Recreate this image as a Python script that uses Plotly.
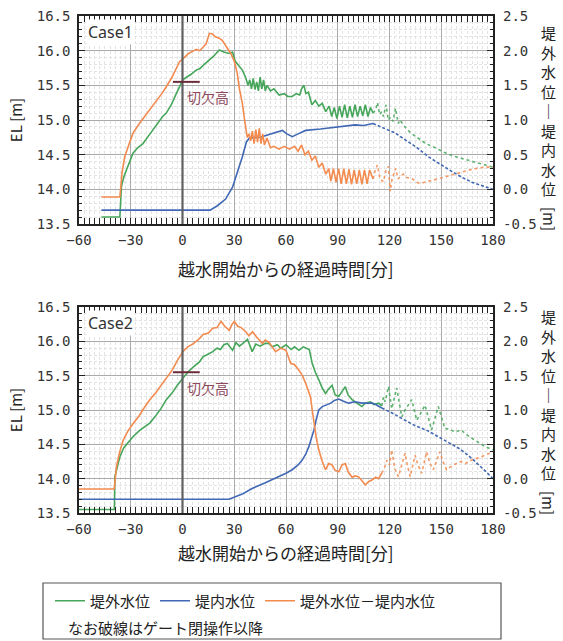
import plotly.graph_objects as go

# ---------------- data ----------------
x_ticks = [-60, -30, 0, 30, 60, 90, 120, 150, 180]
el_ticks = [13.5, 14.0, 14.5, 15.0, 15.5, 16.0, 16.5]
diff_ticks = [-0.5, 0.0, 0.5, 1.0, 1.5, 2.0, 2.5]

# Case1  (t [min], value)
c1_green_solid = [(-47, 13.6), (-36.3, 13.6), (-35.4, 14.04), (-34, 14.18), (-32.5, 14.28), (-30.5, 14.42),
                  (-28.7, 14.52), (-26, 14.6), (-22.9, 14.66), (-20, 14.76), (-17.1, 14.86), (-14, 14.95),
                  (-11.5, 15.05), (-9.4, 15.1), (-6.5, 15.22), (-3.6, 15.38), (-1.5, 15.48), (0.2, 15.58),
                  (2.5, 15.62), (5, 15.66), (7.9, 15.72), (10, 15.74), (12.5, 15.8), (15.6, 15.87), (18, 15.92),
                  (21.3, 16.01), (24, 15.98), (27.1, 15.96), (29, 15.98), (30.5, 15.85), (32.9, 15.77),
                  (34.7, 15.72), (36.5, 15.62), (38, 15.5), (39, 15.58), (40, 15.45), (41, 15.6), (42, 15.44),
                  (43, 15.55), (44, 15.42), (45, 15.62), (46, 15.45), (47, 15.58), (48, 15.42), (49, 15.5),
                  (51, 15.42), (53, 15.45), (56, 15.36), (59, 15.38), (61, 15.34), (63.5, 15.34), (66, 15.38),
                  (68, 15.36), (69, 15.45), (70.4, 15.5), (71.5, 15.38), (73, 15.4), (75, 15.22), (77, 15.28),
                  (79, 15.2), (81, 15.24), (83, 15.12), (85, 15.2), (86.5, 15.05), (88, 15.18), (89.5, 15.02),
                  (91, 15.2), (92.5, 15.04), (94, 15.22), (95.5, 15.03), (97, 15.2), (98.5, 15.04), (100, 15.22),
                  (101.5, 15.05), (103, 15.2), (104.5, 15.06), (106, 15.22), (107.5, 15.05), (109, 15.18),
                  (110.5, 15.1)]
c1_green_dot = [(110.5, 15.1), (112, 15.15), (113, 15.25), (114.3, 15.08), (115.4, 15.12), (116.5, 15.05),
                (118, 15.22), (119.3, 15.0), (120.6, 15.04), (122, 14.98), (123.5, 15.17), (125, 14.95),
                (126, 15.0), (127.5, 14.95), (129, 14.9), (132, 14.82), (136.7, 14.74), (141, 14.66),
                (146.5, 14.6), (152, 14.53), (157, 14.48), (161.5, 14.45), (166, 14.41), (171, 14.38),
                (175, 14.35), (180, 14.32)]
c1_blue_solid = [(-47, 13.7), (16, 13.7), (20, 13.76), (25, 13.86), (29, 14.03), (32, 14.25), (34.7, 14.47),
                 (37, 14.68), (38.7, 14.74), (45, 14.75), (50.2, 14.79), (54, 14.83), (57.9, 14.85),
                 (60.5, 14.8), (63.7, 14.76), (67, 14.8), (71.4, 14.85), (80, 14.87), (88.7, 14.9),
                 (94.4, 14.92), (100, 14.93), (105, 14.92), (110.5, 14.95)]
c1_blue_dash = [(110.5, 14.95), (117, 14.88), (123.5, 14.81), (130, 14.7), (136, 14.6), (142.5, 14.47),
                (150, 14.35), (156, 14.26), (161.5, 14.18), (168, 14.1), (174, 14.05), (180, 14.0)]
c1_orange_solid = [(-47, -0.11), (-36.3, -0.11), (-35, 0.25), (-33.5, 0.47), (-31, 0.65), (-28.7, 0.81),
                   (-25, 0.95), (-22, 1.05), (-19, 1.14), (-15, 1.28), (-12, 1.38), (-9.4, 1.48), (-6, 1.62),
                   (-3.5, 1.75), (-1.7, 1.84), (1, 1.9), (3.5, 1.96), (5.8, 1.99), (8, 2.02), (10, 2.0),
                   (12, 2.06), (13.7, 2.1), (15.6, 2.25), (17.3, 2.24), (19, 2.2), (21.3, 2.18), (23, 2.15),
                   (25, 2.08), (28, 1.96), (30, 1.85), (31.7, 1.68), (33, 1.45), (34.7, 1.24), (36, 1.0),
                   (37.5, 0.75), (38.6, 0.8), (39.5, 0.7), (40.5, 0.84), (41.5, 0.66), (42.5, 0.86),
                   (43.5, 0.68), (44.5, 0.88), (45.5, 0.66), (46.5, 0.8), (47.5, 0.64), (49, 0.74), (51, 0.6),
                   (53, 0.62), (56, 0.58), (59, 0.62), (62, 0.58), (65, 0.62), (67, 0.55), (69, 0.64),
                   (71, 0.5), (73, 0.55), (75, 0.42), (77, 0.48), (79, 0.32), (81, 0.38), (83, 0.22),
                   (84.8, 0.3), (86, 0.12), (87.5, 0.3), (89, 0.1), (90.5, 0.3), (92, 0.08), (93.5, 0.3),
                   (95, 0.08), (96.5, 0.29), (98, 0.07), (99.5, 0.28), (101, 0.08), (102.5, 0.28), (104, 0.07),
                   (105.5, 0.28), (107, 0.08), (108.5, 0.28), (110.5, 0.15)]
c1_orange_dot = [(110.5, 0.15), (112, 0.3), (113, 0.35), (114.5, 0.15), (116.5, 0.11), (118, 0.28),
                 (119.4, 0.33), (120.4, -0.03), (121.5, 0.15), (123.5, 0.3), (125, 0.15), (126, 0.18),
                 (128, 0.22), (130, 0.17), (132.7, 0.16), (136.7, 0.09), (140, 0.1), (144, 0.12), (148, 0.15),
                 (155, 0.2), (161.5, 0.25), (168, 0.29), (175, 0.32), (180, 0.32)]

# Case2
c2_green_solid = [(-60, 13.55), (-39.5, 13.55), (-39.2, 14.03), (-37.5, 14.2), (-36.3, 14.32), (-34, 14.45),
                  (-31, 14.55), (-28.7, 14.61), (-25, 14.7), (-22, 14.75), (-19, 14.81), (-16, 14.9),
                  (-12.5, 15.02), (-9.4, 15.15), (-6, 15.25), (-3, 15.36), (0.2, 15.46), (3, 15.55),
                  (6, 15.62), (9.8, 15.7), (12, 15.78), (14, 15.8), (17.5, 15.85), (20, 15.9), (22, 15.88),
                  (24, 15.95), (26, 15.97), (27.5, 15.92), (29, 15.87), (31, 15.98), (33, 15.93), (35, 15.97),
                  (37.7, 16.03), (40.4, 15.85), (42.5, 15.96), (45, 15.93), (48, 15.97), (50, 15.97),
                  (52, 15.92), (55, 15.95), (57, 15.9), (60, 15.95), (63, 15.88), (65, 15.92), (67.5, 15.87),
                  (70, 15.92), (72.3, 15.9), (73.5, 15.88), (75.2, 15.68), (77, 15.55), (79, 15.44),
                  (81, 15.32), (82.9, 15.24), (84.5, 15.3), (86.7, 15.36), (88.5, 15.22), (90.6, 15.2),
                  (92.5, 15.28), (94.4, 15.34), (96, 15.22), (98.3, 15.15), (100, 15.12), (102, 15.08),
                  (104, 15.05), (106, 15.1), (108.9, 15.12), (111, 15.08), (113.7, 15.1), (115.5, 15.06)]
c2_green_dot = [(115.5, 15.06), (116.5, 15.19), (117.5, 15.12), (119.4, 15.34), (121.3, 15.02), (124.2, 15.32),
                (127.1, 14.9), (129, 15.0), (132.9, 15.15), (135.8, 14.85), (138, 14.95), (140.6, 15.07),
                (144.4, 14.71), (148.3, 15.05), (152.1, 14.73), (155, 14.72), (157.9, 14.68), (161.7, 14.71),
                (164, 14.65), (167.5, 14.59), (171, 14.53), (175.2, 14.47), (180, 14.42)]
c2_blue_solid = [(-60, 13.7), (27, 13.7), (35, 13.78), (40.6, 13.86), (48, 13.94), (56, 14.03), (60, 14.08),
                 (63.6, 14.13), (67, 14.2), (69.4, 14.27), (71.5, 14.36), (73.3, 14.47), (75, 14.6),
                 (76.2, 14.71), (77.5, 14.86), (79, 15.0), (81, 15.05), (82.9, 15.07), (86, 15.1),
                 (88, 15.14), (90.6, 15.16), (93, 15.13), (96.3, 15.1), (100, 15.12), (104, 15.1),
                 (109.8, 15.1), (112, 15.08), (115.5, 15.03)]
c2_blue_dash = [(115.5, 15.03), (122, 14.95), (129, 14.85), (135, 14.77), (142, 14.7), (148.3, 14.61),
                (155, 14.52), (161, 14.43), (167.5, 14.3), (172, 14.2), (176, 14.1), (180, 14.0)]
c2_orange_solid = [(-60, -0.15), (-39.6, -0.15), (-38.3, 0.17), (-36.5, 0.38), (-34.4, 0.56), (-31.5, 0.7),
                   (-28.7, 0.8), (-25, 0.92), (-22, 1.04), (-19, 1.15), (-15.5, 1.25), (-12.5, 1.36),
                   (-9.4, 1.46), (-6, 1.58), (-3, 1.72), (0.2, 1.85), (3, 1.92), (6, 1.96), (9.8, 2.04),
                   (12, 2.1), (15, 2.12), (17.5, 2.19), (20, 2.2), (22.3, 2.29), (24.5, 2.22), (27.1, 2.16),
                   (28.5, 2.24), (30, 2.29), (32, 2.22), (34, 2.2), (36.7, 2.14), (38.5, 2.08), (40.6, 2.14),
                   (43, 2.06), (46.3, 1.97), (48, 2.02), (50, 1.99), (52, 1.92), (54, 1.85), (57, 1.9),
                   (60, 1.87), (62.7, 1.68), (65, 1.66), (67.5, 1.58), (69.5, 1.5), (71.4, 1.39),
                   (72.8, 1.3), (74.2, 1.19), (75.2, 1.0), (76.2, 0.81), (77.5, 0.6), (79, 0.42), (81, 0.25),
                   (82.9, 0.13), (84.8, 0.22), (86.7, 0.2), (88.5, 0.12), (90.6, 0.1), (92.5, 0.2),
                   (94.4, 0.22), (96, 0.1), (98.3, 0.02), (100, 0.04), (102, 0.03), (104, -0.03), (106, -0.09),
                   (108, -0.04), (109.8, -0.02), (112, 0.02), (113.7, 0.0), (115.5, 0.08)]
c2_orange_dot = [(115.5, 0.08), (117, 0.15), (118.5, 0.27), (120, 0.2), (121.3, 0.42), (123, 0.15),
                 (125.2, 0.03), (127, 0.2), (129, 0.37), (130.5, 0.18), (132, 0.03), (134.8, 0.34),
                 (136.5, 0.2), (138.7, 0.08), (141.5, 0.39), (143.5, 0.22), (145.4, 0.13), (149.2, 0.39),
                 (151, 0.25), (153.1, 0.13), (157, 0.2), (161.7, 0.25), (164, 0.22), (167.5, 0.27),
                 (173.3, 0.32), (180, 0.39)]

notch_el = 15.55
notch_x = [-5.5, 10]
case_names = ["Case1", "Case2"]
series_names = ["堤外水位", "堤内水位", "堤外水位－堤内水位"]

# ---------------- styling ----------------
GREEN = "#45a65a"
BLUE = "#4168b5"
ORANGE = "#f38a4e"
TICKFONT = dict(family="DejaVu Sans Mono", size=14, color="#333333")
JP = "Noto Sans CJK JP"
W, H = 563, 641

fig = go.Figure()


def add_series(data, color, dash, xa, ya, name, show, width=1.6, opacity=1.0):
    fig.add_trace(go.Scatter(
        x=[p[0] for p in data], y=[p[1] for p in data], mode="lines",
        line=dict(color=color, width=width, dash=dash), opacity=opacity,
        xaxis=xa, yaxis=ya, name=name, legendgroup=name, showlegend=show,
        hoverinfo="skip"))


cases = [
    (c1_green_solid, c1_green_dot, c1_blue_solid, c1_blue_dash, c1_orange_solid, c1_orange_dot),
    (c2_green_solid, c2_green_dot, c2_blue_solid, c2_blue_dash, c2_orange_solid, c2_orange_dot),
]
axes = [("x", "y", "y2"), ("x2", "y3", "y4")]

for i, (gs, gd, bs, bd, os_, od) in enumerate(cases):
    xa, ya, yb = axes[i]
    first = i == 0
    add_series(gs, GREEN, "solid", xa, ya, series_names[0], first)
    add_series(gd, GREEN, "dot", xa, ya, series_names[0], False, opacity=0.85)
    add_series(bs, BLUE, "solid", xa, ya, series_names[1], first)
    add_series(bd, BLUE, "3px,2px", xa, ya, series_names[1], False)
    add_series(os_, ORANGE, "solid", xa, yb, series_names[2], first)
    add_series(od, ORANGE, "dot", xa, yb, series_names[2], False, opacity=0.85)

# domains (pixels -> paper)
px_x0, px_x1 = 79, 493
dom_x = [px_x0 / W, px_x1 / W]
dom_top = [1 - 224 / H, 1 - 16 / H]
dom_bot = [1 - 513 / H, 1 - 307 / H]

MINOR_GRID = "#e3e3e3"


def xaxis_cfg(anchor):
    return dict(domain=dom_x, anchor=anchor, range=[-60, 180], tickvals=x_ticks, automargin=False,
                ticks="inside", ticklen=6, tickcolor="#222", tickwidth=1.3,
                showline=True, linecolor="#222", linewidth=1.5, mirror="allticks",
                showgrid=True, gridcolor="#ababab", gridwidth=1, zeroline=False,
                tickfont=TICKFONT, ticklabelstandoff=2,
                minor=dict(dtick=3, ticks="inside", ticklen=3, tickcolor="#222",
                           showgrid=True, gridcolor=MINOR_GRID, griddash="3px,2px", gridwidth=1))


def yaxis_cfg(anchor, domain):
    return dict(domain=domain, anchor=anchor, range=[13.5, 16.5], tickvals=el_ticks, automargin=False,
                ticktext=[f"{v:.1f}" for v in el_ticks],
                ticks="inside", ticklen=6, tickcolor="#222", tickwidth=1.3,
                showline=True, linecolor="#222", linewidth=1.5, mirror="allticks",
                showgrid=True, gridcolor="#ababab", gridwidth=1, zeroline=False,
                tickfont=TICKFONT, ticklabelstandoff=4,
                title=dict(text="EL [m]", font=dict(family=JP, size=15, color="#222"), standoff=10),
                minor=dict(dtick=0.1, ticks="inside", ticklen=3, tickcolor="#222",
                           showgrid=True, gridcolor=MINOR_GRID, griddash="3px,2px", gridwidth=1))


def y2axis_cfg(anchor, overlay):
    return dict(anchor=anchor, overlaying=overlay, side="right", range=[-0.5, 2.5], automargin=False,
                tickvals=diff_ticks, ticktext=[f"{v:.1f}" for v in diff_ticks],
                ticks="", showgrid=False, zeroline=False, showline=False,
                tickfont=TICKFONT, ticklabelstandoff=9)


fig.update_layout(
    width=W, height=H, margin=dict(l=0, r=0, t=0, b=0, autoexpand=False),
    paper_bgcolor="white", plot_bgcolor="white",
    font=dict(family=JP, color="#222"),
    xaxis=xaxis_cfg("y"), yaxis=yaxis_cfg("x", dom_top), yaxis2=y2axis_cfg("x", "y"),
    xaxis2=xaxis_cfg("y3"), yaxis3=yaxis_cfg("x2", dom_bot), yaxis4=y2axis_cfg("x2", "y3"),
    legend=dict(orientation="h", x=50 / W, y=1 - 601 / H, xanchor="left", yanchor="middle",
                font=dict(family=JP, size=15, color="#222"), bgcolor="rgba(0,0,0,0)",
                itemwidth=30, tracegroupgap=0),
    showlegend=True,
)

shapes = []
annotations = []
x_title_y = [1 - 268 / H, 1 - 552 / H]
for i, (xa, ya, yb) in enumerate(axes):
    # vertical line at t=0
    shapes.append(dict(type="line", xref=xa, yref=f"{ya} domain", x0=0, x1=0, y0=0, y1=1,
                       line=dict(color="#606060", width=2.2), layer="above"))
    # notch height marker
    shapes.append(dict(type="line", xref=xa, yref=ya, x0=notch_x[0], x1=notch_x[1], y0=notch_el, y1=notch_el,
                       line=dict(color="#6b2b3a", width=2)))
    annotations.append(dict(xref=xa, yref=ya, x=1.2, y=notch_el - 0.05, text="切欠高", showarrow=False,
                            xanchor="left", yanchor="top",
                            font=dict(family=JP, size=14, color="#8e4a5c")))
    annotations.append(dict(xref=xa, yref=ya, x=-56, y=16.46, text=case_names[i], showarrow=False,
                            xanchor="left", yanchor="top", bgcolor="white",
                            font=dict(family="Noto Sans", size=16, color="#333")))
    annotations.append(dict(xref="paper", yref="paper", x=286 / W, y=x_title_y[i],
                            text="越水開始からの経過時間[分]", showarrow=False,
                            xanchor="center", yanchor="middle",
                            font=dict(family=JP, size=17, color="#222")))
    # right vertical (tategaki) axis title
    ytop = [1 - 20 / H, 1 - 304 / H][i]
    annotations.append(dict(xref="paper", yref="paper", x=548 / W, y=ytop,
                            text="<br>".join(list("堤外水位") + ["｜"] + list("堤内水位")),
                            showarrow=False, xanchor="center", yanchor="top",
                            font=dict(family=JP, size=15, color="#222")))
    ym = [1 - 219 / H, 1 - 503 / H][i]
    annotations.append(dict(xref="paper", yref="paper", x=549 / W, y=ym, text="[m]", textangle=90,
                            showarrow=False, xanchor="center", yanchor="middle",
                            font=dict(family=JP, size=15, color="#222")))

# legend box and note
shapes.append(dict(type="rect", xref="paper", yref="paper", x0=43 / W, x1=501 / W, y0=1 - 639 / H,
                   y1=1 - 583 / H, line=dict(color="#555", width=1.2), fillcolor="rgba(0,0,0,0)"))
annotations.append(dict(xref="paper", yref="paper", x=66 / W, y=1 - 627 / H, text="なお破線はゲート閉操作以降",
                        showarrow=False, xanchor="left", yanchor="middle",
                        font=dict(family=JP, size=15, color="#222")))

fig.update_layout(shapes=shapes, annotations=annotations)
fig.write_html("out.html")
